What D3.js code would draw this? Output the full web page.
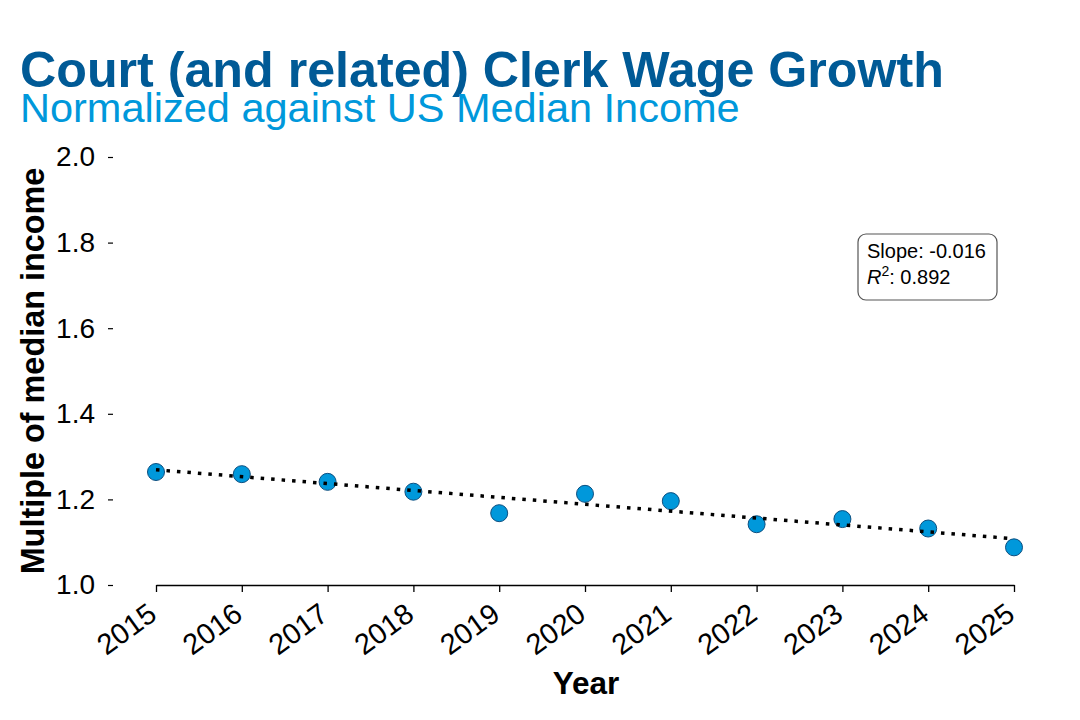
<!DOCTYPE html>
<html><head><meta charset="utf-8">
<script src="https://cdn.jsdelivr.net/npm/d3@7"></script>
<style>body{margin:0;background:#fff;} text{font-family:"Liberation Sans",Arial,sans-serif;}</style>
</head><body>
<svg id="chart" width="1080" height="720"></svg>
<script>
const years = [2015,2016,2017,2018,2019,2020,2021,2022,2023,2024,2025];
const multiples = [1.264,1.259,1.241,1.218,1.1678,1.213,1.196,1.142,1.154,1.132,1.088];
const yTicks = [1.0,1.2,1.4,1.6,1.8,2.0];
const titleText = "Court (and related) Clerk Wage Growth";
const subtitleText = "Normalized against US Median Income";

const svg = d3.select("#chart");
const x = d3.scaleLinear().domain([2015,2025]).range([156,1014]);
const y = d3.scaleLinear().domain([1.0,2.0]).range([585,157]);

// title
svg.append("text").attr("x",20).attr("y",87).attr("font-size",50.2).attr("font-weight","bold")
  .attr("fill","#005a96").text(titleText);
svg.append("text").attr("x",20).attr("y",122).attr("font-size",41.5)
  .attr("fill","#0098db").text(subtitleText);

// x axis
const xAxis = d3.axisBottom(x).tickValues(years).tickFormat(d3.format("d")).tickSize(7).tickSizeOuter(0);
const gx = svg.append("g").attr("transform","translate(0,585)").call(xAxis);
gx.select(".domain").attr("stroke","#000").attr("stroke-width",1.3);
gx.selectAll(".tick line").attr("stroke","#000").attr("stroke-width",1.3);
gx.selectAll(".tick text").attr("font-size",29).attr("fill","#000")
  .attr("font-family","Liberation Sans, Arial, sans-serif")
  .attr("text-anchor","end").attr("dy",null).attr("y",0)
  .attr("transform","translate(2,33) rotate(-36)");

// y axis
const yAxis = d3.axisLeft(y).tickValues(yTicks).tickFormat(d3.format(".1f")).tickSize(5).tickPadding(13);
const gy = svg.append("g").attr("transform","translate(113,0)").call(yAxis);
gy.select(".domain").remove();
gy.selectAll(".tick line").attr("stroke","#000").attr("stroke-width",1.2);
gy.selectAll(".tick text").attr("font-size",28).attr("fill","#000")
  .attr("font-family","Liberation Sans, Arial, sans-serif");

// labels
svg.append("text").attr("x",586).attr("y",694).attr("text-anchor","middle")
  .attr("font-size",31.5).attr("font-weight","bold").text("Year");
svg.append("text").attr("transform","translate(44,371) rotate(-90)").attr("text-anchor","middle")
  .attr("font-size",32.4).attr("font-weight","bold").text("Multiple of median income");

// regression
const n = years.length;
const mx = d3.mean(years), my = d3.mean(multiples);
let sxy=0, sxx=0, syy=0;
for (let i=0;i<n;i++){ sxy+=(years[i]-mx)*(multiples[i]-my); sxx+=(years[i]-mx)**2; syy+=(multiples[i]-my)**2; }
const slope = sxy/sxx, intercept = my - slope*mx;
const r2 = (sxy*sxy)/(sxx*syy);

// points
svg.append("g").selectAll("circle").data(years).join("circle")
  .attr("cx",d=>x(d)).attr("cy",(d,i)=>y(multiples[i])).attr("r",8.5)
  .attr("fill","#0098db").attr("stroke","#0d4f80").attr("stroke-width",1);

// trend line
const ext = [2015,2025];
svg.append("line").attr("x1",x(ext[0])).attr("y1",y(intercept+slope*ext[0]))
  .attr("x2",x(ext[1])).attr("y2",y(intercept+slope*ext[1]))
  .attr("stroke","#000").attr("stroke-width",3.5).attr("stroke-dasharray","3.5,7");

// annotation box
svg.append("rect").attr("x",858).attr("y",234).attr("width",139).attr("height",66)
  .attr("rx",8).attr("fill","#fff").attr("stroke","#555").attr("stroke-width",1.2);
svg.append("text").attr("x",867).attr("y",258).attr("font-size",20).text("Slope: " + slope.toFixed(3));
const t2 = svg.append("text").attr("x",867).attr("y",284).attr("font-size",20);
t2.append("tspan").attr("font-style","italic").text("R");
t2.append("tspan").attr("dy",-8).attr("font-size",14).text("2");
t2.append("tspan").attr("dy",8).text(": " + r2.toFixed(3));
</script>
</body></html>
